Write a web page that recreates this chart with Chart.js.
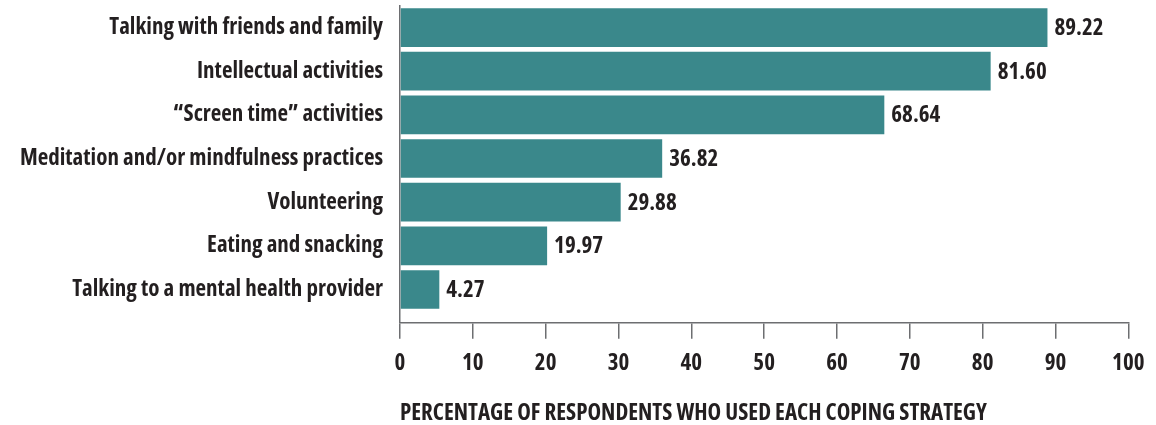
<!DOCTYPE html>
<html lang="en">
<head>
<meta charset="UTF-8" />
<title>Coping strategies</title>
<script src="https://cdn.jsdelivr.net/npm/chart.js"></script>
<style>
  html, body { margin: 0; padding: 0; background: #ffffff; }
  #wrap { width: 1156px; height: 425px; }
</style>
</head>
<body>
<div id="wrap"><canvas id="copingChart" width="1156" height="425"></canvas></div>
<script>
  // data
  const categories = [
    'Talking with friends and family',
    'Intellectual activities',
    '\u201cScreen time\u201d activities',
    'Meditation and/or mindfulness practices',
    'Volunteering',
    'Eating and snacking',
    'Talking to a mental health provider'
  ];
  const barValues = [88.9, 81.1, 66.5, 36.0, 30.3, 20.2, 5.4];
  const valueLabels = ['89.22', '81.60', '68.64', '36.82', '29.88', '19.97', '4.27'];
  const xTicks = [0, 10, 20, 30, 40, 50, 60, 70, 80, 90, 100];
  const axisTitle = 'PERCENTAGE OF RESPONDENTS WHO USED EACH COPING STRATEGY';

  const TEXT = '#231f20';
  const AXIS = '#6d6e71';

  // the original uses a condensed DIN-like face; pick the narrowest installed one
  const probe = document.createElement('canvas').getContext('2d');
  const candidates = [
    ['extra-condensed', '"Noto Sans"'],
    ['condensed', '"Noto Sans"'],
    ['condensed', '"Open Sans"'],
    ['condensed', '"DejaVu Sans"'],
    ['normal', '"DejaVu Sans Condensed"']
  ];
  let pick = candidates[candidates.length - 1], best = Infinity;
  candidates.forEach(c => {
    probe.font = 'bold ' + c[0] + ' 25px ' + c[1] + ', sans-serif';
    const w = probe.measureText(categories[0]).width;
    const d = Math.abs(w - 275);
    if (d < best) { best = d; pick = c; }
  });
  const WEIGHT = 'bold ' + pick[0];
  const FONT = pick[1] + ', sans-serif';
  probe.font = WEIGHT + ' 25px ' + FONT;
  const SIZE = Math.min(25, Math.round(25 * 275 / probe.measureText(categories[0]).width));

  // value labels at the end of each bar
  const endLabels = {
    id: 'endLabels',
    afterDatasetsDraw(chart) {
      const ctx = chart.ctx;
      const meta = chart.getDatasetMeta(0);
      ctx.save();
      ctx.font = WEIGHT + ' ' + SIZE + 'px ' + FONT;
      ctx.fillStyle = TEXT;
      ctx.textAlign = 'left';
      ctx.textBaseline = 'middle';
      meta.data.forEach((bar, i) => {
        ctx.fillText(valueLabels[i], bar.x + 7, bar.y + 1);
      });
      ctx.restore();
    }
  };

  const ctx = document.getElementById('copingChart').getContext('2d');
  const copingChart = new Chart(ctx, {
    type: 'bar',
    data: {
      datasets: [{
        data: barValues.map((v, i) => ({ x: v, y: i })),
        backgroundColor: '#3a888b',
        borderWidth: 0,
        barPercentage: 0.886,
        categoryPercentage: 1
      }]
    },
    options: {
      indexAxis: 'y',
      responsive: false,
      animation: false,
      layout: { padding: { top: 5.7, right: 27.7, left: 0, bottom: 0 } },
      plugins: {
        legend: { display: false },
        tooltip: { enabled: false }
      },
      scales: {
        x: {
          type: 'linear',
          min: 0,
          max: 100,
          afterBuildTicks: (scale) => { scale.ticks = xTicks.map(v => ({ value: v })); },
          afterFit: (scale) => { scale.height = 102.3; scale.paddingLeft = 0; scale.paddingRight = 0; },
          grid: {
            drawOnChartArea: false,
            drawTicks: true,
            tickLength: 16,
            color: AXIS,
            lineWidth: 1.5
          },
          border: { display: true, color: AXIS, width: 1.5 },
          ticks: {
            color: TEXT,
            padding: 11,
            maxRotation: 0,
            font: { family: FONT, size: SIZE, weight: WEIGHT }
          },
          title: {
            display: true,
            text: axisTitle,
            align: 'start',
            color: TEXT,
            padding: { top: 22, bottom: 0 },
            font: { family: FONT, size: SIZE, weight: WEIGHT, lineHeight: 1 }
          }
        },
        y: {
          type: 'linear',
          reverse: true,
          offset: false,
          min: -0.5,
          max: 6.76,
          afterBuildTicks: (scale) => { scale.ticks = categories.map((c, i) => ({ value: i })); },
          afterFit: (scale) => { scale.width = 400; scale.paddingTop = 0; scale.paddingBottom = 0; },
          grid: { display: false, drawTicks: false, offset: false },
          border: { display: true, color: AXIS, width: 1.5 },
          ticks: {
            color: TEXT,
            padding: 17,
            callback: (v) => categories[v] ?? '',
            font: { family: FONT, size: SIZE, weight: WEIGHT }
          }
        }
      }
    },
    plugins: [endLabels]
  });
</script>
</body>
</html>
